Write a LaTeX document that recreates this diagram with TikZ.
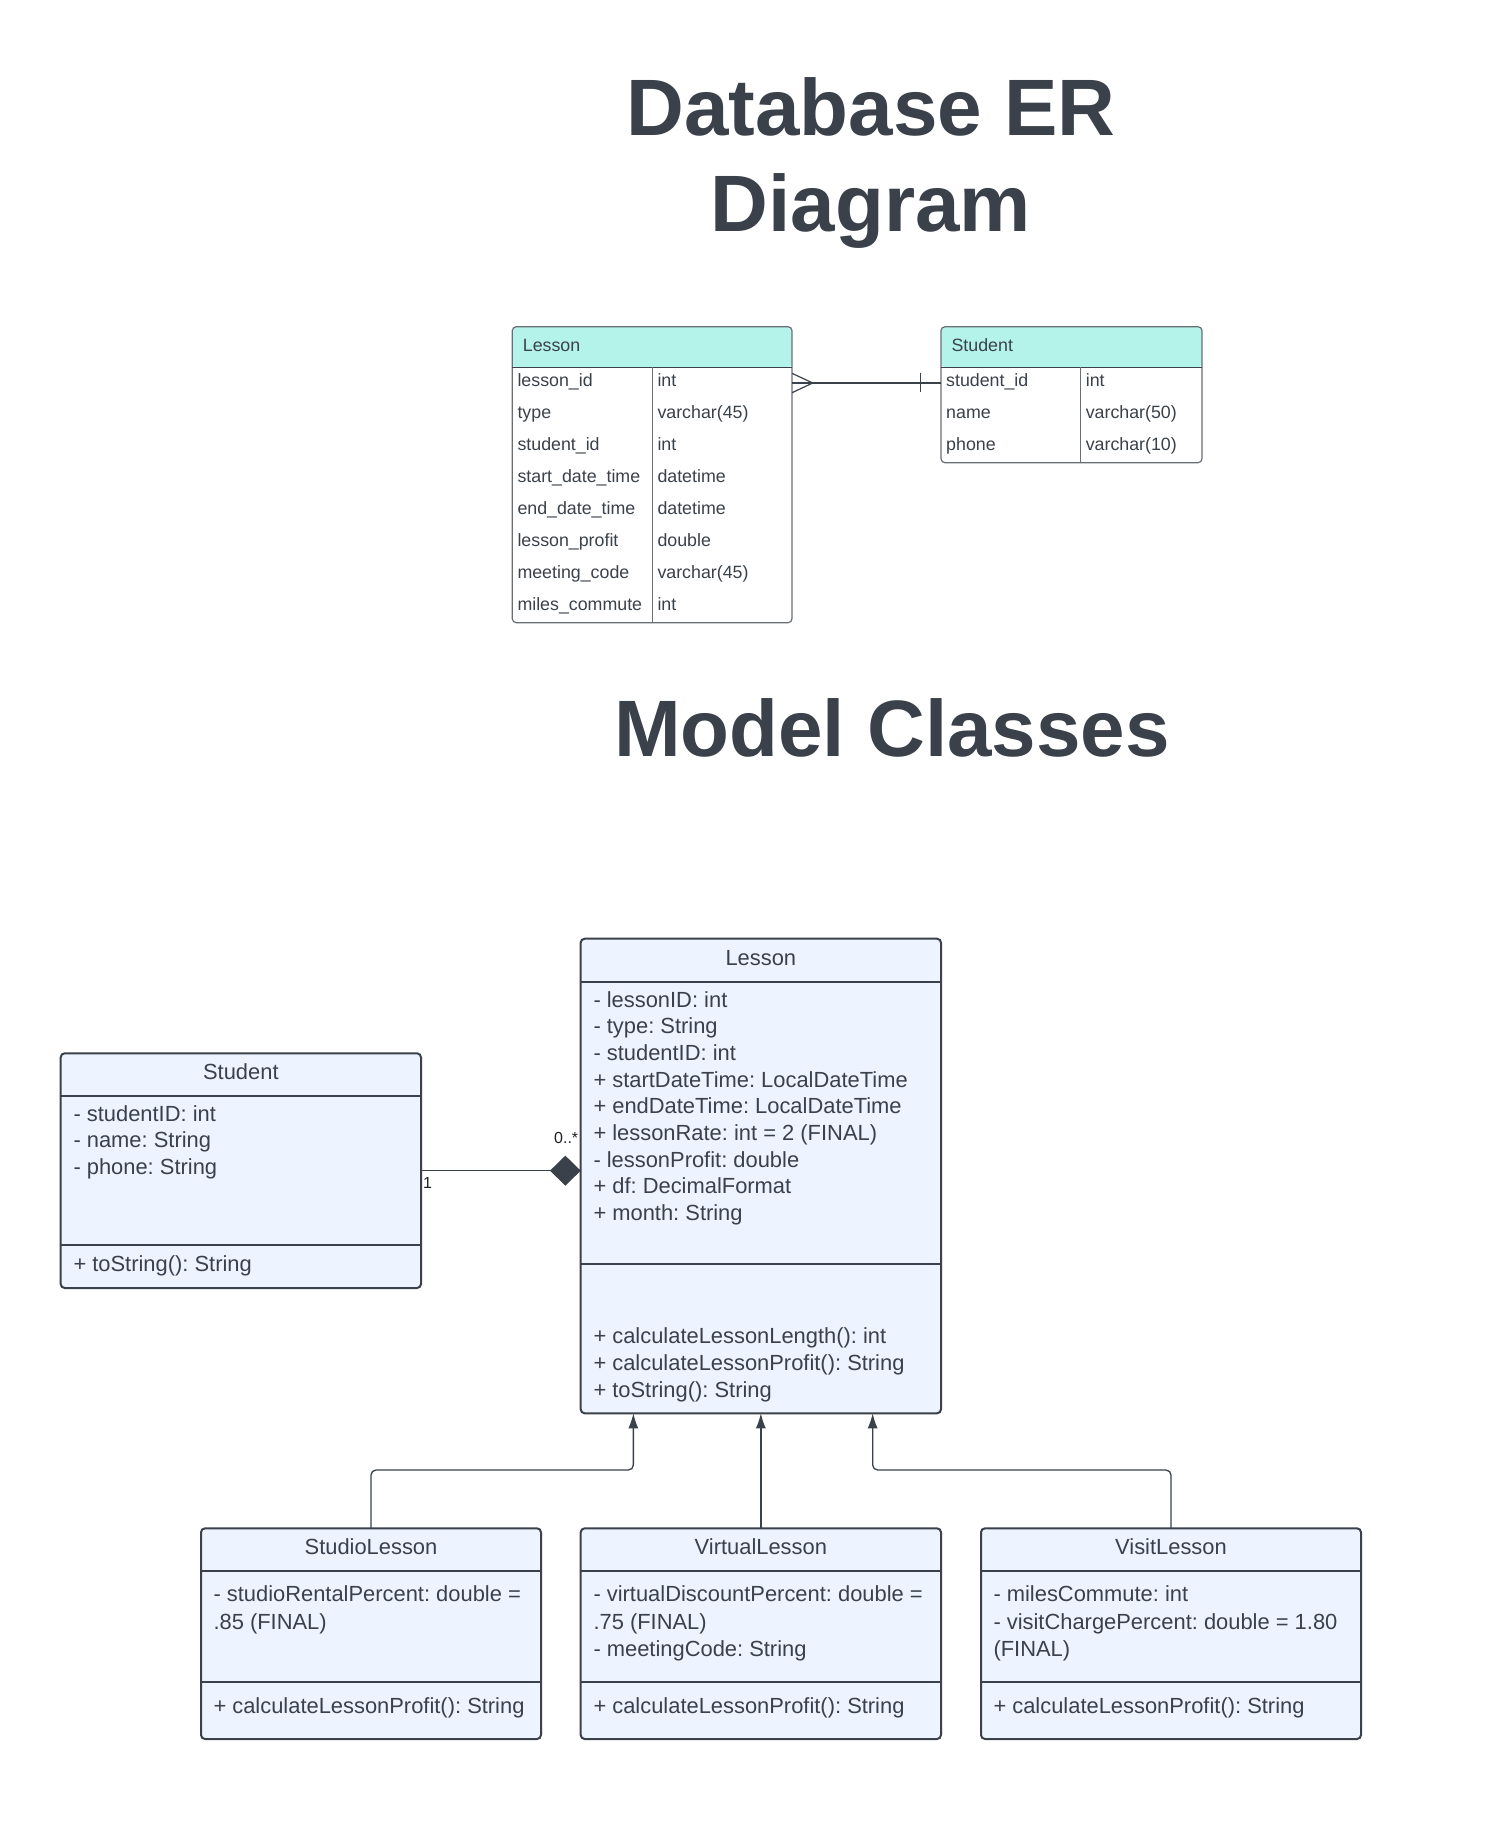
\documentclass[tikz,border=0pt]{standalone}
\usepackage{fontspec}
\setmainfont{Liberation Sans}
\frenchspacing
\usetikzlibrary{calc,arrows.meta}
\definecolor{inkgray}{RGB}{58,65,74}
\definecolor{erhead}{RGB}{180,243,234}
\definecolor{umlfill}{RGB}{237,244,255}
\definecolor{ergray}{RGB}{105,110,116}
\tikzset{
	umlbox/.style={draw=inkgray, fill=umlfill, line width=2pt, rounded corners=4pt, inner sep=0pt, outer sep=0pt, anchor=north west},
	umlline/.style={draw=inkgray, line width=2pt},
	ertable/.style={draw=ergray, line width=1.2pt, rounded corners=4pt, inner sep=0pt, outer sep=0pt, anchor=north west},
	erline/.style={draw=inkgray, line width=1.2pt},
	umltext/.style={font=\fontsize{21.9}{26.7}\selectfont, text=inkgray, inner sep=0pt, anchor=base west},
	umltitle/.style={umltext, anchor=base},
	ertext/.style={font=\fontsize{17.8}{21}\selectfont, text=inkgray, inner sep=0pt, anchor=base west},
	multtext/.style={font=\fontsize{16}{19}\selectfont, text=inkgray!50!black, inner sep=0pt, anchor=base west},
	bigtitle/.style={font=\fontsize{80}{96}\selectfont\bfseries, text=inkgray, inner sep=0pt, anchor=base},
	inherit/.style={draw=inkgray, line width=1.3pt, rounded corners=5pt, -{Latex[length=15pt,width=10pt]}},
	compose/.style={draw=inkgray, line width=1.3pt, -{Diamond[length=30.7pt,width=30pt]}},
}

\begin{document}
\begin{tikzpicture}[x=1pt, y=-1pt]
		%%%%% START %%%%%
		
		\fill[white] (0, 0) rectangle (1502, 1848);
		\useasboundingbox (0, 0) rectangle (1502, 1848);
		
		\node[bigtitle] (titleER) at (871, 135) {Database ER};
		\node[bigtitle] (titleDiag) at (871, 231.7) {Diagram};
		\node[bigtitle] (titleModel) at (892, 756) {Model Classes};
		
		%% ER tables
		\node[ertable, minimum width=279.7pt, minimum height=296pt,
			path picture={\fill[erhead] (path picture bounding box.north west) rectangle ([yshift=-40.6pt]path picture bounding box.north east);}]
			(erLesson) at (512.3, 326.7) {};
		\draw[erline] (512.3, 367.3) -- (792, 367.3);
		\draw[ergray, line width=1.2pt] (652.7, 367.3) -- (652.7, 622.7);
		\node[ertext] (erLessonName) at (522.7, 351) {Lesson};
		\foreach \col/\typ [count=\i] in {lesson\_id/int, type/varchar(45), student\_id/int, start\_date\_time/datetime, end\_date\_time/datetime, lesson\_profit/double, meeting\_code/varchar(45), miles\_commute/int}{
			\node[ertext] (erLessonCol\i) at (517.3, {386.7+31.93*(\i-1)}) {\col};
			\node[ertext] (erLessonTyp\i) at (657.3, {386.7+31.93*(\i-1)}) {\typ};
		}
		
		\node[ertable, minimum width=261pt, minimum height=136pt,
			path picture={\fill[erhead] (path picture bounding box.north west) rectangle ([yshift=-40.6pt]path picture bounding box.north east);}]
			(erStudent) at (941, 326.7) {};
		\draw[erline] (941, 367.3) -- (1202, 367.3);
		\draw[ergray, line width=1.2pt] (1080.6, 367.3) -- (1080.6, 462.7);
		\node[ertext] (erStudentName) at (951.4, 351) {Student};
		\foreach \col/\typ [count=\i] in {student\_id/int, name/varchar(50), phone/varchar(10)}{
			\node[ertext] (erStudentCol\i) at (946, {386.6+31.8*(\i-1)}) {\col};
			\node[ertext] (erStudentTyp\i) at (1085.6, {386.6+31.8*(\i-1)}) {\typ};
		}
		
		% many to one
		\draw[erline] ($(erLesson.north east)+(0, 56.3)$) -- ($(erStudent.north west)+(0, 56.3)$);
		\draw[erline] ($(erLesson.north east)+(0, 46.6)$) -- ($(erLesson.north east)+(20.7, 56.3)$) -- ($(erLesson.north east)+(0, 66)$);
		\draw[erline] ($(erStudent.north west)+(-20.3, 46)$) -- ($(erStudent.north west)+(-20.3, 65.6)$);
		
		%% class Lesson
		\node[umlbox, minimum width=360.3pt, minimum height=474.6pt] (lessonCls) at (580.7, 938.7) {};
		\draw[umlline] (580.7, 981.7) -- (941, 981.7);
		\draw[umlline] (580.7, 1264) -- (941, 1264);
		\node[umltitle] (lessonName) at (760.85, 965.3) {Lesson};
		\foreach \txt [count=\i] in {- lessonID: int, - type: String, - studentID: int, + startDateTime: LocalDateTime, + endDateTime: LocalDateTime, + lessonRate: int = 2 (FINAL), - lessonProfit: double, + df: DecimalFormat, + month: String}
			\node[umltext] (lessonAttr\i) at (593.3, {1007+26.67*(\i-1)}) {\txt};
		\foreach \txt [count=\i] in {+ calculateLessonLength(): int, + calculateLessonProfit(): String, + toString(): String}
			\node[umltext] (lessonOp\i) at (593.3, {1343.7+26.67*(\i-1)}) {\txt};
		
		%% class Student
		\node[umlbox, minimum width=360.3pt, minimum height=234.7pt] (studentCls) at (60.7, 1053.3) {};
		\draw[umlline] (60.7, 1095.7) -- (421, 1095.7);
		\draw[umlline] (60.7, 1245) -- (421, 1245);
		\node[umltitle] (studentName) at (240.85, 1079.3) {Student};
		\foreach \txt [count=\i] in {- studentID: int, - name: String, - phone: String}
			\node[umltext] (studentAttr\i) at (73.3, {1121+26.67*(\i-1)}) {\txt};
		\node[umltext] (studentOp1) at (73.3, 1271) {+ toString(): String};
		
		\draw[compose] (studentCls.east) -- (studentCls.east -| lessonCls.west);
		\node[multtext] (multOne) at (423, 1188.3) {1};
		\node[multtext] (multMany) at (554, 1143.3) {0..*};
		
		%% subclasses
		\node[umlbox, minimum width=340pt, minimum height=210.7pt] (studioCls) at (201, 1528.3) {};
		\draw[umlline] (201, 1571) -- (541, 1571);
		\draw[umlline] (201, 1682.3) -- (541, 1682.3);
		\node[umltitle] (studioName) at (371, 1554) {StudioLesson};
		\foreach \txt [count=\i] in {- studioRentalPercent: double =, .85 (FINAL)}
			\node[umltext] (studioAttr\i) at (213.3, {1601.7+27.5*(\i-1)}) {\txt};
		\node[umltext] (studioOp1) at (213.3, 1713.3) {+ calculateLessonProfit(): String};
		
		\node[umlbox, minimum width=360.3pt, minimum height=210.7pt] (virtualCls) at (580.7, 1528.3) {};
		\draw[umlline] (580.7, 1571) -- (941, 1571);
		\draw[umlline] (580.7, 1682.3) -- (941, 1682.3);
		\node[umltitle] (virtualName) at (760.85, 1554) {VirtualLesson};
		\foreach \txt [count=\i] in {- virtualDiscountPercent: double =, .75 (FINAL), - meetingCode: String}
			\node[umltext] (virtualAttr\i) at (593.3, {1601.7+27.5*(\i-1)}) {\txt};
		\node[umltext] (virtualOp1) at (593.3, 1713.3) {+ calculateLessonProfit(): String};
		
		\node[umlbox, minimum width=380pt, minimum height=210.7pt] (visitCls) at (981, 1528.3) {};
		\draw[umlline] (981, 1571) -- (1361, 1571);
		\draw[umlline] (981, 1682.3) -- (1361, 1682.3);
		\node[umltitle] (visitName) at (1171, 1554) {VisitLesson};
		\foreach \txt [count=\i] in {- milesCommute: int, - visitChargePercent: double = 1.80, (FINAL)}
			\node[umltext] (visitAttr\i) at (993.3, {1601.7+27.5*(\i-1)}) {\txt};
		\node[umltext] (visitOp1) at (993.3, 1713.3) {+ calculateLessonProfit(): String};
		
		% generalisation
		\draw[inherit] (studioCls.north) -- ++(0, -58.3) -| ($(lessonCls.south)+(-127.5, 0)$);
		\draw[inherit] (virtualCls.north) -- (lessonCls.south);
		\draw[inherit] (visitCls.north) -- ++(0, -58.3) -| ($(lessonCls.south)+(111.8, 0)$);
		
		%%%%% END %%%%%
	\end{tikzpicture}
\end{document}
